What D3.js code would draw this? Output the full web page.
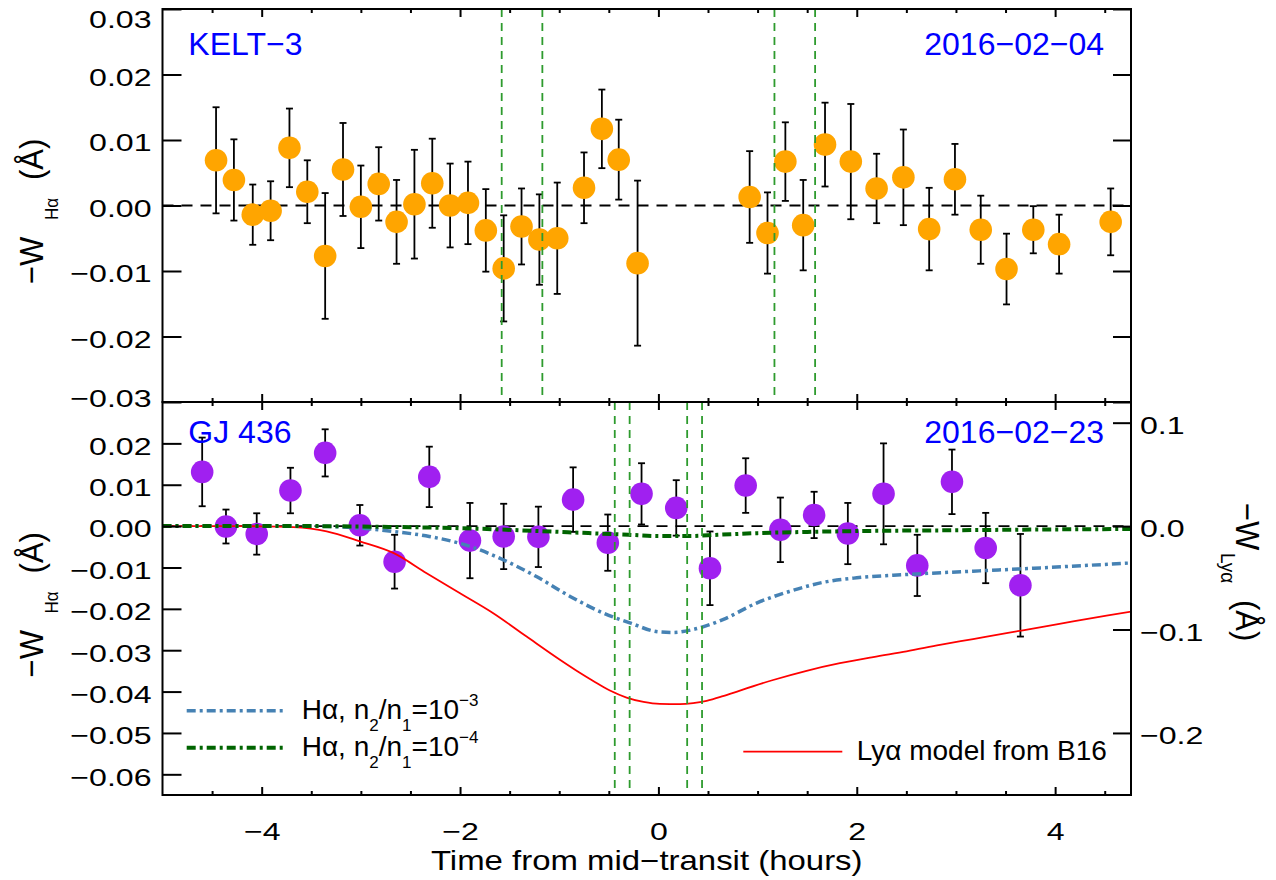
<!DOCTYPE html>
<html>
<head>
<meta charset="utf-8">
<script src="https://cdn.jsdelivr.net/npm/d3@7"></script>
<style>
  body { margin: 0; background: #fff; }
  svg { font-family: "Liberation Sans", Arial, Helvetica, sans-serif; }
</style>
</head>
<body>
<div id="chart"></div>
<script>
// KELT-3, 2016-02-04
const keltTime = [-4.46, -4.28, -4.09, -3.91, -3.72, -3.54, -3.36, -3.18, -3.00, -2.82,
  -2.64, -2.46, -2.28, -2.10, -1.92, -1.74, -1.56, -1.38, -1.20, -1.02,
  -0.75, -0.57, -0.40, -0.21, 0.92, 1.10, 1.28, 1.46, 1.68, 1.94,
  2.20, 2.47, 2.73, 2.99, 3.25, 3.51, 3.78, 4.04, 4.56];
const keltW = [0.0069, 0.0039, -0.0014, -0.0008, 0.0088, 0.0021, -0.0077, 0.0055, -0.0002, 0.0033,
  -0.0025, 0.0002, 0.0034, 0.0000, 0.0004, -0.0038, -0.0096, -0.0032, -0.0052, -0.0050,
  0.0027, 0.0117, 0.0070, -0.0088, 0.0013, -0.0042, 0.0067, -0.0030, 0.0093, 0.0067,
  0.0026, 0.0043, -0.0036, 0.0040, -0.0037, -0.0097, -0.0037, -0.0059, -0.0025];
const keltErr = [0.0081, 0.0062, 0.0046, 0.0045, 0.0060, 0.0048, 0.0096, 0.0071, 0.0063, 0.0056,
  0.0064, 0.0083, 0.0068, 0.0064, 0.0063, 0.0063, 0.0081, 0.0058, 0.0069, 0.0085,
  0.0054, 0.0060, 0.0061, 0.0126, 0.0070, 0.0062, 0.0060, 0.0069, 0.0064, 0.0088,
  0.0053, 0.0073, 0.0063, 0.0054, 0.0052, 0.0054, 0.0036, 0.0045, 0.0051];
const keltContacts = [-1.58, -1.17, 1.17, 1.58];

// GJ 436, 2016-02-23
const gjTime = [-4.60, -4.36, -4.05, -3.71, -3.36, -3.01, -2.66, -2.31, -1.90, -1.56,
  -1.21, -0.86, -0.51, -0.17, 0.18, 0.52, 0.88, 1.23, 1.57, 1.91,
  2.27, 2.61, 2.96, 3.30, 3.65];
const gjW = [0.0131, -0.0001, -0.0019, 0.0086, 0.0177, 0.0002, -0.0086, 0.0119, -0.0035, -0.0025,
  -0.0026, 0.0064, -0.0040, 0.0078, 0.0044, -0.0102, 0.0098, -0.0009, 0.0027, -0.0018,
  0.0078, -0.0095, 0.0107, -0.0053, -0.0143];
const gjErr = [0.0083, 0.0041, 0.0050, 0.0055, 0.0057, 0.0049, 0.0065, 0.0073, 0.0091, 0.0079,
  0.0073, 0.0078, 0.0068, 0.0074, 0.0067, 0.0089, 0.0066, 0.0078, 0.0056, 0.0074,
  0.0122, 0.0074, 0.0078, 0.0085, 0.0124];
const gjContacts = [-0.44, -0.29, 0.29, 0.44];

// models (Ly-alpha on right axis, H-alpha on left axis)
const lyaTime = [-5.0, -4.5, -4.0, -3.68, -3.345, -3.01, -2.673, -2.337, -2.0, -1.665,
  -1.329, -0.993, -0.825, -0.657, -0.489, -0.321, -0.15, 0.015, 0.217, 0.35,
  0.486, 0.65, 0.822, 1.157, 1.494, 1.83, 2.165, 2.502, 2.838, 3.173,
  3.51, 3.846, 4.181, 4.518, 4.77];
const lyaW = [0, 0, -0.0002, -0.001, -0.005, -0.0147, -0.0259, -0.0455, -0.0649, -0.0842,
  -0.1068, -0.1292, -0.1398, -0.1497, -0.1590, -0.1658, -0.1700, -0.1719, -0.1721, -0.1712,
  -0.1690, -0.1645, -0.1590, -0.1488, -0.1399, -0.1326, -0.1266, -0.1211, -0.1149, -0.1092,
  -0.1034, -0.098, -0.0922, -0.0866, -0.0826];
const ha3Time = [-5.0, -4.0, -3.5, -3.2, -3.0, -2.67, -2.31, -1.9, -1.56, -1.23,
  -0.89, -0.558, -0.288, 0.015, 0.15, 0.35, 0.65, 0.99, 1.32, 1.66,
  2.0, 2.5, 3.17, 3.85, 4.77];
const ha3W = [0, 0, 0, -0.0002, -0.0005, -0.0013, -0.0025, -0.0049, -0.0082, -0.0122,
  -0.017, -0.021, -0.0234, -0.0256, -0.0257, -0.025, -0.0226, -0.0186, -0.0158, -0.0136,
  -0.0125, -0.0117, -0.0109, -0.0101, -0.0089];
const ha4Time = [-5.0, -3.5, -2.7, -2.0, -1.2, -0.6, -0.3, 0.0, 0.3, 0.6,
  1.0, 1.5, 2.0, 3.0, 4.0, 4.77];
const ha4W = [0, 0, -0.0002, -0.0005, -0.0012, -0.0018, -0.0021, -0.0024, -0.0024, -0.0021,
  -0.0017, -0.0014, -0.0012, -0.0010, -0.0008, -0.0007];

// ticks
const timeTicks = [-4, -2, 0, 2, 4];
const keltTicks = [-0.03, -0.02, -0.01, 0, 0.01, 0.02, 0.03];
const gjTicks = [-0.06, -0.05, -0.04, -0.03, -0.02, -0.01, 0, 0.01, 0.02];
const lyaTicks = [-0.2, -0.1, 0, 0.1];

const width = 1276, height = 880;
const SX = 1.3; // tick labels are drawn a bit wide

const svg = d3.select('#chart').append('svg')
  .attr('width', width).attr('height', height);
svg.append('rect').attr('width', width).attr('height', height).attr('fill', '#fff');

const x = d3.scaleLinear().domain([-5, 4.765]).range([162.5, 1131]);
const yTop = d3.scaleLinear().domain([-0.03, 0.03]).range([402, 9]);
const yBot = d3.scaleLinear().domain([-0.065, 0.03]).range([795, 402]);
const yLya = d3.scaleLinear().domain([-0.26, 0.12]).range([795, 402]);

svg.append('clipPath').attr('id', 'clipBot')
  .append('rect').attr('x', x.range()[0]).attr('y', 402)
  .attr('width', x.range()[1] - x.range()[0]).attr('height', 393);

const minorTicks = d3.range(-5, 5, 0.5).filter(d => timeTicks.indexOf(d) < 0 && d > -5);

function ticks(gen, tr, values, fmt, size, pad) {
  const g = svg.append('g').attr('transform', tr)
    .call(gen.tickValues(values).tickSizeInner(size).tickSizeOuter(0).tickPadding(pad).tickFormat(fmt));
  g.select('.domain').remove();
  g.selectAll('.tick line').attr('stroke', '#000').attr('stroke-width', 2);
  g.selectAll('.tick text').attr('fill', '#000').style('font-size', '24.7px')
    .attr('font-family', null);
  return g;
}

function stretch(g, side, pad) {
  const t = g.selectAll('.tick text').attr('transform', `scale(${SX},1)`);
  if (side === 'left') t.attr('x', -pad / SX).attr('dy', '0.44em');
  if (side === 'right') t.attr('x', pad / SX).attr('dy', '0.44em');
  if (side === 'bottom') t.attr('x', 0);
  return t;
}

function timeAxes(yTopPx, yBotPx) {
  [[timeTicks, 8], [minorTicks, 4]].forEach(([vals, len]) => {
    ticks(d3.axisTop(x), `translate(0,${yTopPx})`, vals, '', -len, 0);
    ticks(d3.axisBottom(x), `translate(0,${yBotPx})`, vals, '', -len, 0);
  });
}

// ---- zero lines
function zeroLine(y) {
  svg.append('line')
    .attr('x1', x.range()[0]).attr('x2', x.range()[1])
    .attr('y1', y(0)).attr('y2', y(0))
    .attr('stroke', '#000').attr('stroke-width', 1.8).attr('stroke-dasharray', '11,8');
}
zeroLine(yTop);
zeroLine(yBot);

// ---- points with error bars
function points(times, vals, errs, y, color) {
  const g = svg.append('g');
  const rows = times.map((t, i) => ({ t: t, v: vals[i], e: errs[i] }));
  g.selectAll('line.bar').data(rows).join('line')
    .attr('x1', d => x(d.t)).attr('x2', d => x(d.t))
    .attr('y1', d => y(d.v + d.e)).attr('y2', d => y(d.v - d.e))
    .attr('stroke', '#000').attr('stroke-width', 1.8);
  ['hi', 'lo'].forEach(k => {
    g.selectAll('line.' + k).data(rows).join('line').attr('class', k)
      .attr('x1', d => x(d.t) - 3.5).attr('x2', d => x(d.t) + 3.5)
      .attr('y1', d => y(k === 'hi' ? d.v + d.e : d.v - d.e))
      .attr('y2', d => y(k === 'hi' ? d.v + d.e : d.v - d.e))
      .attr('stroke', '#000').attr('stroke-width', 1.8);
  });
  g.selectAll('circle').data(rows).join('circle')
    .attr('cx', d => x(d.t)).attr('cy', d => y(d.v)).attr('r', 11.3)
    .attr('fill', color);
}
points(keltTime, keltW, keltErr, yTop, '#FFA500');
points(gjTime, gjW, gjErr, yBot, '#A020F0');

// ---- model curves
function curve(times, vals, y, color, w, dash) {
  const line = d3.line().x(d => x(d[0])).y(d => y(d[1])).curve(d3.curveMonotoneX);
  svg.append('path')
    .attr('clip-path', 'url(#clipBot)')
    .attr('d', line(times.map((t, i) => [t, vals[i]])))
    .attr('fill', 'none').attr('stroke', color).attr('stroke-width', w)
    .attr('stroke-dasharray', dash);
}
curve(lyaTime, lyaW, yLya, '#FF0000', 1.8, null);
curve(ha3Time, ha3W, yBot, '#4682B4', 3.5, '9,4,3,4');
curve(ha4Time, ha4W, yBot, '#006400', 4, '9,4,3,4');

// ---- transit contact lines
function contacts(vals, y0, y1) {
  svg.append('g').selectAll('line').data(vals).join('line')
    .attr('x1', d => x(d)).attr('x2', d => x(d))
    .attr('y1', y0).attr('y2', y1)
    .attr('stroke', '#2E9B2E').attr('stroke-width', 1.8).attr('stroke-dasharray', '8,6');
}
contacts(keltContacts, yTop.range()[1], yTop.range()[0]);
contacts(gjContacts, yBot.range()[1], yBot.range()[0]);

// ---- axes
timeAxes(9, 402);
timeAxes(402, 795);

const fmt2 = d3.format('.2f');
let g = ticks(d3.axisLeft(yTop), `translate(${x.range()[0]},0)`, keltTicks, fmt2, -19, 11);
stretch(g, 'left', 11);
g.selectAll('.tick text').filter(d => d === 0.03).attr('dy', '0.76em');
g.selectAll('.tick text').filter(d => d === -0.03).attr('dy', '0.2em');
ticks(d3.axisRight(yTop), `translate(${x.range()[1]},0)`, keltTicks, '', -18, 0);

g = ticks(d3.axisLeft(yBot), `translate(${x.range()[0]},0)`, gjTicks, fmt2, -19, 11);
stretch(g, 'left', 11);
g = ticks(d3.axisRight(yLya), `translate(${x.range()[1]},0)`, lyaTicks, d3.format('.1f'), -18, 9);
stretch(g, 'right', 9);

g = ticks(d3.axisBottom(x), 'translate(0,795)', timeTicks, d3.format('d'), 0, 27);
g.selectAll('.tick line').remove();
stretch(g, 'bottom', 27);

// frames
[[9, 402], [402, 795]].forEach(([a, b]) => {
  svg.append('rect').attr('x', x.range()[0]).attr('y', a)
    .attr('width', x.range()[1] - x.range()[0]).attr('height', b - a)
    .attr('fill', 'none').attr('stroke', '#000').attr('stroke-width', 2);
});

// ---- axis titles
svg.append('text')
  .attr('transform', `translate(${(x.range()[0] + x.range()[1]) / 2},870) scale(1.22,1)`)
  .attr('text-anchor', 'middle').style('font-size', '27px')
  .text('Time from mid\u2212transit (hours)');

function yTitle(bx, parts, rot) {
  const t = svg.append('text')
    .attr('transform', `translate(${bx},0) rotate(${rot}) scale(1,1.1)`);
  parts.forEach(p => {
    t.append('tspan').attr('x', p.pos).attr('dy', p.dy).style('font-size', p.size + 'px').text(p.s);
  });
}
[0, 393.4].forEach(off => {
  yTitle(42.5, [
    { s: '\u2212W', pos: -(284 + off), dy: 0, size: 31 },
    { s: 'H\u03b1', pos: -(220 + off), dy: 14, size: 17 },
    { s: '(\u00c5)', pos: -(180 + off), dy: -14, size: 31 }
  ], -90);
});
yTitle(1236, [
  { s: '\u2212W', pos: 503, dy: 0, size: 31 },
  { s: 'Ly\u03b1', pos: 553, dy: 14, size: 19 },
  { s: '(\u00c5)', pos: 600, dy: -14, size: 31 }
], 90);

// ---- panel labels
function tag(xp, yp, s, anchor) {
  svg.append('text').attr('x', xp).attr('y', yp).attr('text-anchor', anchor)
    .attr('fill', '#0000FF').style('font-size', '32px').text(s);
}
tag(188.3, 55, 'KELT\u22123', 'start');
tag(1104, 55, '2016\u221202\u221204', 'end');
tag(188.3, 443.3, 'GJ 436', 'start');
tag(1104, 443.3, '2016\u221202\u221223', 'end');

// ---- legend
function legendLine(x1, x2, y, color, w, dash) {
  svg.append('line').attr('x1', x1).attr('x2', x2).attr('y1', y).attr('y2', y)
    .attr('stroke', color).attr('stroke-width', w).attr('stroke-dasharray', dash);
}
function haLabel(xp, yp, exp) {
  const t = svg.append('text').attr('x', xp).attr('y', yp).style('font-size', '28px');
  t.append('tspan').text('H\u03b1, n');
  t.append('tspan').attr('dy', 12).style('font-size', '17px').text('2');
  t.append('tspan').attr('dy', -12).text('/n');
  t.append('tspan').attr('dy', 12).style('font-size', '17px').text('1');
  t.append('tspan').attr('dy', -12).text('=10');
  t.append('tspan').attr('dy', -13).style('font-size', '17px').text('\u2212' + exp);
}
legendLine(186.7, 286.7, 710.7, '#4682B4', 3.5, '9,4,3,4');
haLabel(301.7, 719.3, '3');
legendLine(186.7, 286.7, 747.7, '#006400', 4, '9,4,3,4');
haLabel(301.7, 756.3, '4');
legendLine(743.3, 842.3, 751.7, '#FF0000', 1.8, null);
svg.append('text').attr('x', 856.7).attr('y', 760).style('font-size', '28px')
  .text('Ly\u03b1 model from B16');
</script>
</body>
</html>
